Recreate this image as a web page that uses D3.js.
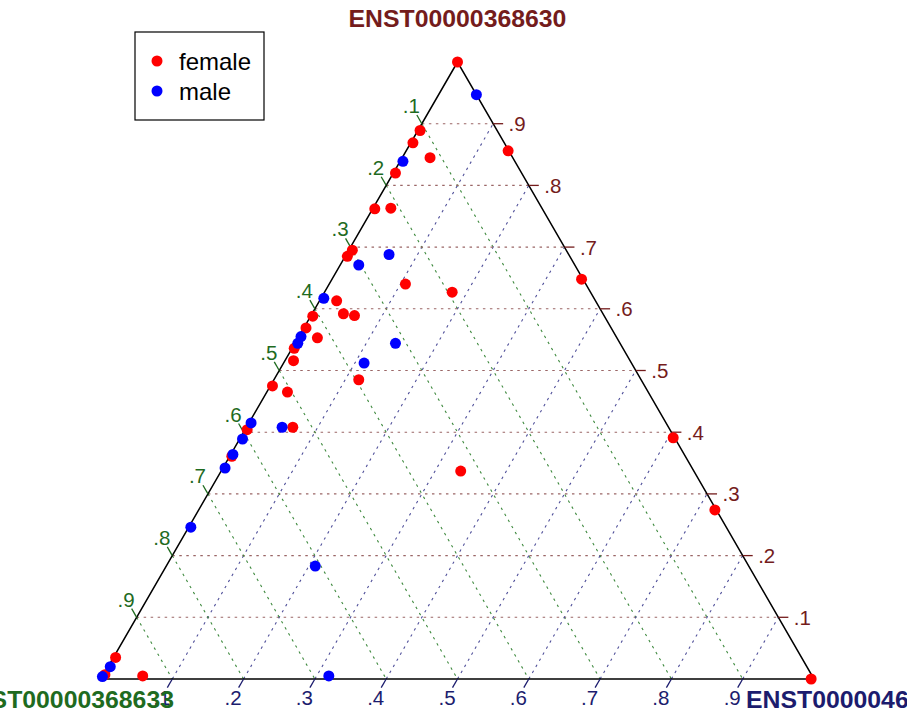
<!DOCTYPE html>
<html>
<head>
<meta charset="utf-8">
<script src="https://cdn.jsdelivr.net/npm/d3@7"></script>
<style>
  body { margin: 0; background: #fff; }
  svg { display: block; font-family: "Liberation Sans", Arial, sans-serif; }
</style>
</head>
<body>
<div id="chart"></div>
<script>
// component names (top, bottom-left, bottom-right)
const components = ["ENST00000368630", "ENST00000368633", "ENST00000464531"];
const compColors = ["#741c1c", "#1f6b1f", "#1c1c6e"];
const gridColors = ["#9a6666", "#3f8a3f", "#50509a"];

const tickValues = [0.1, 0.2, 0.3, 0.4, 0.5, 0.6, 0.7, 0.8, 0.9];
const tickLabels = [".1", ".2", ".3", ".4", ".5", ".6", ".7", ".8", ".9"];

// female samples: share of each transcript
const femaleTop   = [1.000, 0.889, 0.869, 0.845, 0.856, 0.820, 0.762, 0.763, 0.695, 0.685, 0.640, 0.627, 0.613, 0.592, 0.589, 0.588, 0.569, 0.553, 0.536, 0.516, 0.485, 0.475, 0.465, 0.408, 0.404, 0.361, 0.035, 0.007, 0.005, 0.648, 0.391, 0.274, 0.000, 0.337];
const femaleLeft  = [0.000, 0.108, 0.128, 0.116, 0.001, 0.177, 0.235, 0.212, 0.300, 0.312, 0.253, 0.194, 0.363, 0.364, 0.350, 0.409, 0.428, 0.420, 0.461, 0.472, 0.396, 0.522, 0.506, 0.527, 0.593, 0.636, 0.962, 0.991, 0.939, 0.002, 0.002, 0.002, 0.004, 0.327];
const femaleRight = [0.000, 0.003, 0.003, 0.039, 0.143, 0.003, 0.003, 0.025, 0.005, 0.003, 0.107, 0.179, 0.024, 0.044, 0.061, 0.003, 0.003, 0.027, 0.003, 0.012, 0.119, 0.003, 0.029, 0.065, 0.003, 0.003, 0.003, 0.002, 0.056, 0.350, 0.607, 0.724, 0.996, 0.336];

// male samples
const maleTop   = [0.947, 0.839, 0.688, 0.671, 0.617, 0.555, 0.544, 0.544, 0.512, 0.408, 0.415, 0.389, 0.364, 0.342, 0.246, 0.183, 0.020, 0.004, 0.005];
const maleLeft  = [0.000, 0.157, 0.252, 0.303, 0.379, 0.442, 0.452, 0.315, 0.375, 0.542, 0.582, 0.607, 0.633, 0.655, 0.751, 0.608, 0.977, 0.996, 0.678];
const maleRight = [0.053, 0.004, 0.060, 0.026, 0.004, 0.003, 0.004, 0.141, 0.113, 0.050, 0.003, 0.004, 0.003, 0.003, 0.003, 0.209, 0.003, 0.000, 0.317];

const groups = ["female", "male"];
const groupColors = ["#ff0000", "#0000ff"];

const width = 907, height = 715;
const svg = d3.select("#chart").append("svg")
  .attr("width", width)
  .attr("height", height);

const h = Math.sqrt(3) / 2;
const x = d3.scaleLinear().domain([0, 1]).range([101, 814]);
const y = d3.scaleLinear().domain([0, h]).range([679, 62]);

// (top, left, right) -> screen position
const proj = (t, l, r) => [x(r + t / 2), y(t * h)];
const line = d3.line();

// grid lines, one family per component
const grid = svg.append("g").attr("fill", "none").attr("stroke-width", 1.1).attr("stroke-dasharray", "2.5,4.5");
tickValues.forEach(v => {
  grid.append("path").attr("stroke", gridColors[0])
    .attr("d", line([proj(v, 1 - v, 0), proj(v, 0, 1 - v)]));
  grid.append("path").attr("stroke", gridColors[1])
    .attr("d", line([proj(1 - v, v, 0), proj(0, v, 1 - v)]));
  grid.append("path").attr("stroke", gridColors[2])
    .attr("d", line([proj(0, 1 - v, v), proj(1 - v, 0, v)]));
});

// triangle outline
svg.append("path")
  .attr("d", line([proj(1, 0, 0), proj(0, 1, 0), proj(0, 0, 1)]) + "Z")
  .attr("fill", "none")
  .attr("stroke", "#000")
  .attr("stroke-width", 1.5);

// ticks and tick labels
const tickLen = 10;
const labelDist = [24, 21, 21];
const dirs = [[1, 0], [-0.5, -h], [-0.5, h]];
const edgePoint = [
  v => proj(v, 0, 1 - v),   // top component on right edge
  v => proj(1 - v, v, 0),   // left component on left edge
  v => proj(0, 1 - v, v)    // right component on bottom edge
];
const axes = svg.append("g");
[0, 1, 2].forEach(k => {
  const d = dirs[k];
  tickValues.forEach((v, i) => {
    const p = edgePoint[k](v);
    axes.append("line")
      .attr("x1", p[0]).attr("y1", p[1])
      .attr("x2", p[0] + d[0] * tickLen).attr("y2", p[1] + d[1] * tickLen)
      .attr("stroke", compColors[k]).attr("stroke-width", 1.3);
    axes.append("text")
      .attr("x", p[0] + d[0] * labelDist[k]).attr("y", p[1] + d[1] * labelDist[k])
      .attr("text-anchor", "middle")
      .attr("dominant-baseline", "central")
      .attr("fill", compColors[k])
      .style("font-size", "20.5px")
      .text(tickLabels[i]);
  });
});

// points
const pts = svg.append("g");
femaleTop.forEach((t, i) => {
  const p = proj(t, femaleLeft[i], femaleRight[i]);
  pts.append("circle").attr("cx", p[0]).attr("cy", p[1]).attr("r", 5.5).attr("fill", groupColors[0]);
});
maleTop.forEach((t, i) => {
  const p = proj(t, maleLeft[i], maleRight[i]);
  pts.append("circle").attr("cx", p[0]).attr("cy", p[1]).attr("r", 5.5).attr("fill", groupColors[1]);
});

// component titles
const vTop = proj(1, 0, 0), vLeft = proj(0, 1, 0), vRight = proj(0, 0, 1);
const titleStyle = s => s.style("font-size", "24.8px").style("font-weight", "bold");
svg.append("text").attr("x", vTop[0]).attr("y", 27).attr("text-anchor", "middle")
  .attr("fill", compColors[0]).call(titleStyle).text(components[0]);
svg.append("text").attr("x", vLeft[0] + 73).attr("y", 708).attr("text-anchor", "end")
  .attr("fill", compColors[1]).call(titleStyle).text(components[1]);
svg.append("text").attr("x", vRight[0] - 68).attr("y", 708).attr("text-anchor", "start")
  .attr("fill", compColors[2]).call(titleStyle).text(components[2]);

// legend
const legend = svg.append("g");
legend.append("rect").attr("x", 135).attr("y", 32).attr("width", 129).attr("height", 88)
  .attr("fill", "#fff").attr("stroke", "#000").attr("stroke-width", 1.2);
groups.forEach((g, i) => {
  legend.append("circle").attr("cx", 157).attr("cy", 61 + i * 30).attr("r", 5.5).attr("fill", groupColors[i]);
  legend.append("text").attr("x", 179).attr("y", 70 + i * 29.5)
    .style("font-size", "24px").attr("fill", "#000").text(g);
});
</script>
</body>
</html>
